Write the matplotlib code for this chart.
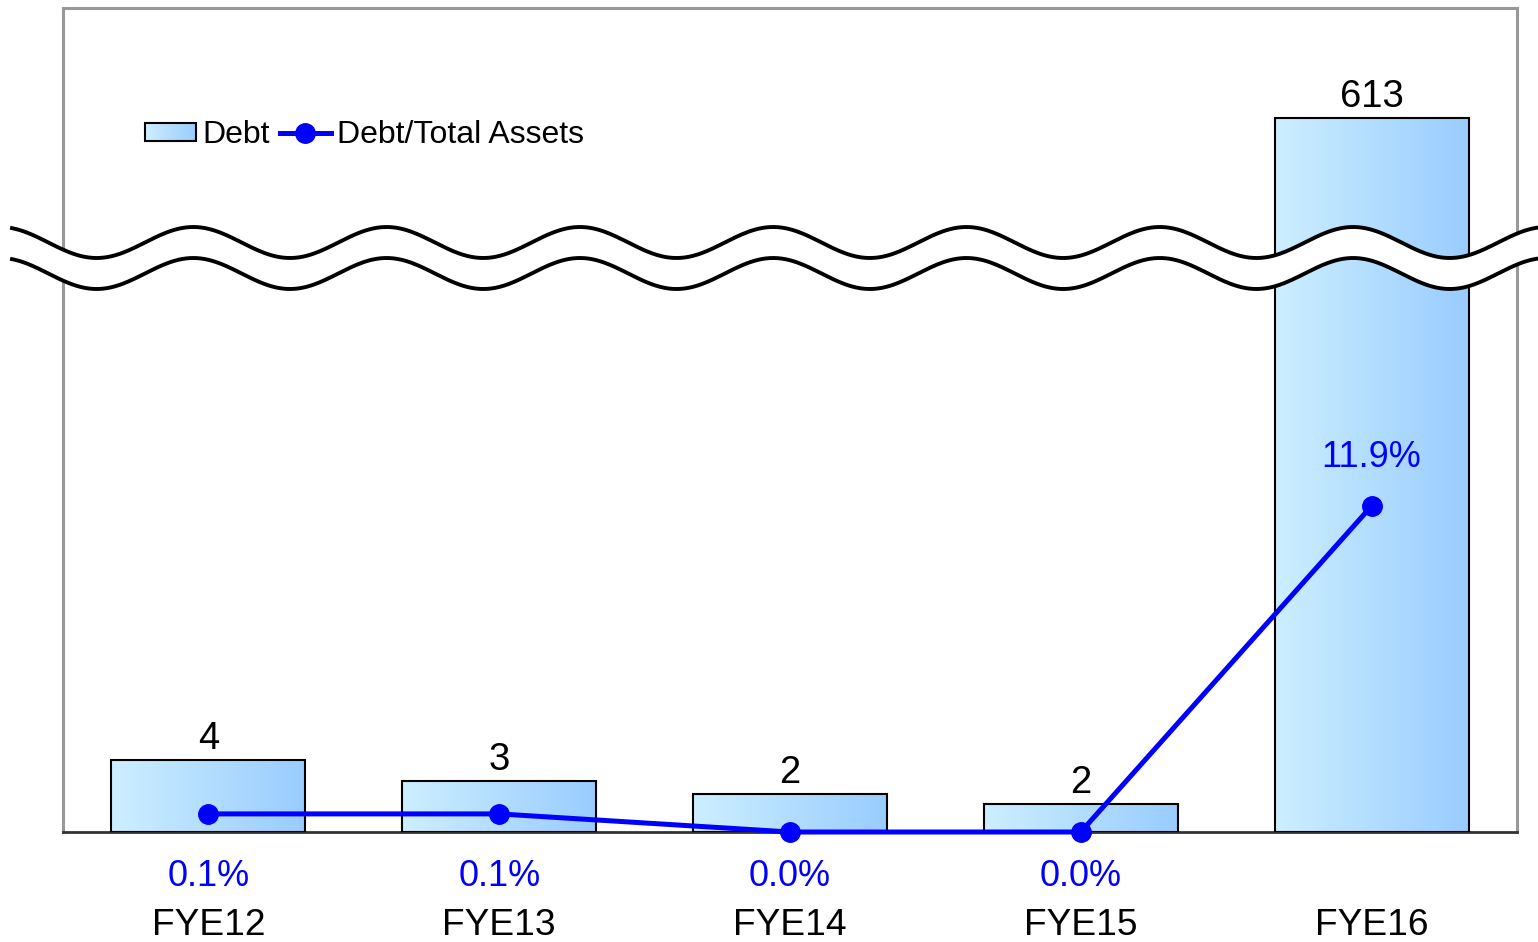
import numpy as np
import matplotlib
matplotlib.use('Agg')
import matplotlib.pyplot as plt
from matplotlib.colors import LinearSegmentedColormap
from matplotlib.legend_handler import HandlerBase
from matplotlib.patches import Rectangle

categories = ['FYE12', 'FYE13', 'FYE14', 'FYE15', 'FYE16']
debt = [4.1, 2.9, 2.2, 1.6, 613]
debt_ratio = [0.1, 0.1, 0.0, 0.0, 11.9]

plt.rcParams['font.family'] = ['Liberation Sans', 'DejaVu Sans']

grad = LinearSegmentedColormap.from_list('barfill', ['#CCEEFF', '#99CCFF'])
blue = '#0000FF'

# broken axis for debt: linear up to T, squeezed above
T, C = 30.0, 10.8 / 583


def fwd(y):
    y = np.asarray(y, float)
    return np.where(y <= T, y, T + (y - T) * C)


def inv(f):
    f = np.asarray(f, float)
    return np.where(f <= T, f, T + (f - T) / C)


# ratio axis is compressed too
P = 0.605


def fwd2(y):
    y = np.asarray(y, float)
    return np.sign(y) * np.abs(y) ** P


def inv2(f):
    f = np.asarray(f, float)
    return np.sign(f) * np.abs(f) ** (1 / P)


class GradientHandler(HandlerBase):
    def create_artists(self, legend, orig_handle, xdescent, ydescent,
                       width, height, fontsize, trans):
        arts = []
        n = 30
        for i in range(n):
            arts.append(Rectangle((-xdescent + width * i / n, -ydescent),
                                  width / n * 1.2, height,
                                  facecolor=grad(i / (n - 1)), edgecolor='none',
                                  transform=trans))
        arts.append(Rectangle((-xdescent, -ydescent), width, height,
                              facecolor='none', edgecolor='black', lw=1.5,
                              transform=trans))
        return arts


fig = plt.figure(figsize=(15.38, 9.42), dpi=100)
ax = fig.add_axes([63 / 1538, 110 / 942, 1454 / 1538, 824 / 942])
ax.set_yscale('function', functions=(fwd, inv))

x = np.arange(len(categories))
w = 0.667
n = 60
for i in range(n):
    ax.bar(x - w / 2 + w * (i + 0.5) / n, debt, width=w / n * 1.3,
           color=grad(i / (n - 1)), linewidth=0, zorder=2)
ax.bar(x, debt, width=w, facecolor='none', edgecolor='black',
       linewidth=1.5, zorder=3)

for xi, v in zip(x, debt):
    ax.annotate(f'{v:.0f}', (xi, v), xytext=(0, 2), textcoords='offset points',
                ha='center', va='bottom', fontsize=27.5)

ax.set_xlim(-0.5, 4.5)
ax.set_ylim(0, float(inv(824 / 17.5)))
ax.set_yticks([])
ax.set_xticks(x, categories, fontsize=26.7)
ax.tick_params(axis='x', length=0, pad=55)
for s in ['top', 'left', 'right']:
    ax.spines[s].set_color('#999999')
    ax.spines[s].set_linewidth(2.2)
ax.spines['bottom'].set_color('#333333')
ax.spines['bottom'].set_linewidth(2)

ax2 = ax.twinx()
ax2.set_yscale('function', functions=(fwd2, inv2))
ax2.set_ylim(0, float(inv2(fwd2(11.9) * 824 / 326)))
ax2.set_yticks([])
for s in ax2.spines.values():
    s.set_visible(False)

line, = ax2.plot(x, debt_ratio, color=blue, lw=3.6, marker='o', ms=14,
                 clip_on=False, zorder=4)

for xi, r in zip(x, debt_ratio):
    if r > 1:
        ax2.annotate(f'{r:.1f}%', (xi, r), xytext=(0, 35),
                     textcoords='offset points', ha='center', va='center',
                     color=blue, fontsize=26)
    else:
        ax2.annotate(f'{r:.1f}%', (xi, 0), xycoords=('data', 'axes fraction'),
                     xytext=(0, -32), textcoords='offset points',
                     ha='center', va='center', color=blue, fontsize=26)

proxy = Rectangle((0, 0), 1, 1)
ax2.legend([proxy, line], ['Debt', 'Debt/Total Assets'],
           handler_map={proxy: GradientHandler()},
           loc='center left', bbox_to_anchor=(82 / 1454, 697 / 824),
           ncol=2, frameon=False, fontsize=23, borderpad=0, borderaxespad=0,
           handlelength=1.6, handleheight=0.5, handletextpad=0.2,
           columnspacing=0.3)

# wavy break marks across the chart
axw = fig.add_axes([0, 0, 1, 1], zorder=5)
axw.set_xlim(0, 1538)
axw.set_ylim(942, 0)
axw.axis('off')
xs = np.linspace(12, 1538, 800)
up = 242.5 - 15.5 * np.cos(2 * np.pi * xs / 193.3)
lo = up + 31
axw.fill_between(xs, up, lo, color='white', lw=0)
axw.plot(xs, up, color='black', lw=2.8)
axw.plot(xs, lo, color='black', lw=2.8)

fig.savefig('out.png', dpi=100)
